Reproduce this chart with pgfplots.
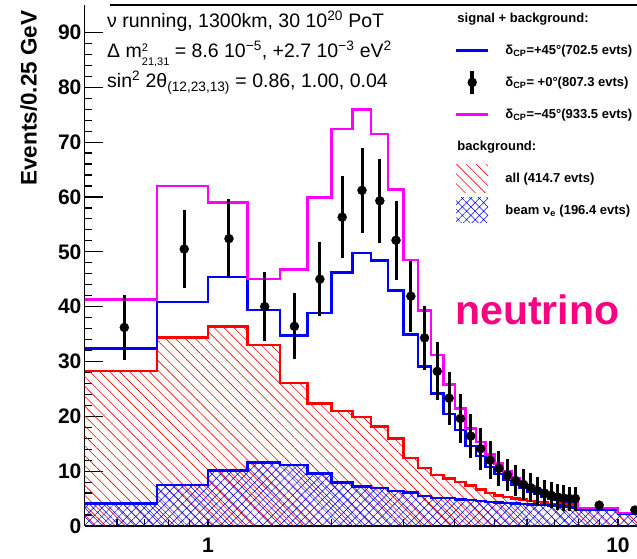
\documentclass[border=0pt]{standalone}
\usepackage{fontspec}
\setmainfont{Liberation Sans}
\usepackage{pgfplots}
\usepackage{pgfplotstable}
\pgfplotsset{compat=1.18}
\usetikzlibrary{patterns.meta}
\definecolor{nupink}{RGB}{250,0,130}
\definecolor{rblue}{RGB}{0,0,255}
\definecolor{rmag}{RGB}{255,0,255}
\definecolor{rred}{RGB}{255,0,0}
\pgfplotstableread{
x     pos   neg   bg    nue
0.5   32.4  41.3  28.3  4.1
0.75  40.8  62.0  34.4  7.5
1.0   45.4  59.0  36.4  10.1
1.25  39.4  45.0  33.0  11.6
1.5   34.7  46.8  26.1  11.1
1.75  38.8  59.9  22.3  9.6
2.0   46.2  72.4  21.0  7.9
2.25  49.8  75.9  19.9  7.2
2.5   48.4  71.5  18.1  6.9
2.75  42.9  61.4  16.0  6.4
3.0   34.9  48.5  12.4  6.1
3.25  29.1  39.3  10.6  5.5
3.5   24.2  31.2  9.3   5.1
3.75  20.4  25.8  8.7   5.1
4.0   17.5  21.4  8.0   4.8
4.25  14.6  17.8  7.4   4.7
4.5   12.8  15.3  6.7   4.6
4.75  10.8  13.0  6.0   4.4
5.0   9.5   11.4  5.6   4.3
5.25  8.5   9.9   5.3   4.2
5.5   7.5   8.7   5.0   4.1
5.75  6.9   7.8   4.8   4.0
6.0   6.3   7.2   4.6   3.9
6.25  5.9   6.6   4.4   3.8
6.5   5.4   6.0   4.3   3.8
6.75  5.0   5.4   4.0   3.7
7.0   4.8   5.1   3.8   3.7
7.25  4.6   5.0   4.1   3.6
7.5   4.5   5.0   4.2   3.5
7.75  4.5   5.0   3.9   3.4
8.0   3.1   3.3   3.1   2.9
10.0  2.3   2.4   2.3   2.3
12.0  2.3   2.4   2.3   2.3
}\hist
\pgfplotstableread{
x      y     e
0.625  36.2  6.0
0.875  50.5  7.1
1.125  52.4  7.2
1.375  40.0  6.3
1.625  36.4  6.0
1.875  45.0  6.7
2.125  56.3  7.5
2.375  61.2  7.8
2.625  59.3  7.7
2.875  52.1  7.2
3.125  41.9  6.5
3.375  34.3  5.9
3.625  28.2  5.3
3.875  23.3  4.8
4.125  19.6  4.4
4.375  16.4  4.0
4.625  14.1  3.8
4.875  12.0  3.5
5.125  10.5  3.2
5.375  9.3   3.0
5.625  8.3   2.9
5.875  7.6   2.8
6.125  7.0   2.6
6.375  6.4   2.5
6.625  6.0   2.4
6.875  5.6   2.4
7.125  5.3   2.3
7.375  5.1   2.3
7.625  5.0   2.2
7.875  5.0   2.2
9.0    3.8   0.7
11.0   2.9   0.6
}\pts
\begin{document}
\begin{tikzpicture}
\useasboundingbox (0,0) rectangle (637pt,559pt);
\begin{axis}[
  at={(84.6pt,33pt)}, anchor=south west,
  scale only axis, width=552.4pt, height=521pt,
  xmode=log, xmin=0.5, xmax=11.13, ymin=0, ymax=95,
  axis x line*=bottom, axis y line*=left,
  axis line style={line width=1.2pt, black},
  tick align=inside,
  tick style={black, line width=1.2pt},
  major tick length=18pt, minor tick length=7pt,
  xtick={1,10}, xticklabels={1,10},
  major x tick style={draw=none},
  minor xtick={0.6,0.7,0.8,0.9,1,2,3,4,5,6,7,8,9,10},
  ytick={0,10,20,30,40,50,60,70,80,90},
  yticklabels={0,10,20,30,40,50,60,70,80,90},
  minor y tick num=4,
  ticklabel style={font=\bfseries\fontsize{21}{21}\selectfont},
  yticklabel style={anchor=east, inner sep=0pt, xshift=-3pt},
  xticklabel style={anchor=north, inner sep=0pt, yshift=-12pt},
  ylabel={Events/0.25 GeV},
  ylabel style={font=\bfseries\fontsize{22.5}{22.5}\selectfont, at={(axis description cs:-0.0867,0.996)}, anchor=base east},
  legend style={at={(axis description cs:0.6705,1.005)}, anchor=north west, draw=none, fill=none, inner sep=0pt, outer sep=0pt, row sep=0pt, column sep=16pt, font=\bfseries\fontsize{13}{13}\selectfont, nodes={inner sep=0pt, draw=none}},
  legend cell align=left,
]
\addplot[draw=none, const plot, pattern={Lines[angle=-45,distance=7pt,line width=0.6pt]}, pattern color=rred, forget plot] table[x=x,y=bg]{\hist} \closedcycle;
\addplot[rred, line width=2.5pt, const plot, forget plot] table[x=x,y=bg]{\hist};
\addplot[draw=none, const plot, pattern={Hatch[angle=45,distance=6pt,line width=0.5pt]}, pattern color=rblue, forget plot] table[x=x,y=nue]{\hist} \closedcycle;
\addplot[rblue, line width=2.5pt, const plot, forget plot] table[x=x,y=nue]{\hist};
\addplot[rblue, line width=2.5pt, const plot, forget plot] table[x=x,y=pos]{\hist};
\addplot[rmag, line width=2.5pt, const plot, forget plot] table[x=x,y=neg]{\hist};
\addplot[black, only marks, mark=*, mark size=4.5pt, mark options={fill=black}, forget plot,
  error bars/.cd, y dir=both, y explicit, error mark=none, error bar style={line width=3pt, black}]
  table[x=x,y=y,y error=e]{\pts};
\addlegendimage{legend image code/.code={\path[draw=none,fill=none] (0pt,-16pt) rectangle (32pt,16pt);}}
\addlegendentry{\hspace*{-48pt}signal + background:}
\addlegendimage{legend image code/.code={\path[draw=none,fill=none] (0pt,-16pt) rectangle (32pt,16pt); \draw[rblue,line width=2.5pt] (0pt,0pt) -- (32pt,0pt);}}
\addlegendentry{δ\textsubscript{CP}=+45°(702.5 evts)}
\addlegendimage{legend image code/.code={\path[draw=none,fill=none] (0pt,-16pt) rectangle (32pt,16pt); \draw[black,line width=3.5pt] (16pt,-11.5pt) -- (16pt,11.5pt); \fill[black] (16pt,0pt) circle (4.5pt);}}
\addlegendentry{δ\textsubscript{CP}= +0°(807.3 evts)}
\addlegendimage{legend image code/.code={\path[draw=none,fill=none] (0pt,-16pt) rectangle (32pt,16pt); \draw[rmag,line width=2.5pt] (0pt,0pt) -- (32pt,0pt);}}
\addlegendentry{δ\textsubscript{CP}=−45°(933.5 evts)}
\addlegendimage{legend image code/.code={\path[draw=none,fill=none] (0pt,-16pt) rectangle (32pt,16pt);}}
\addlegendentry{\hspace*{-48pt}background:}
\addlegendimage{legend image code/.code={\path[draw=none,fill=none] (0pt,-16pt) rectangle (32pt,16pt); \path[draw=none, pattern={Lines[angle=-45,distance=7pt,line width=0.6pt]}, pattern color=rred] (0pt,-14pt) rectangle (32pt,14pt);}}
\addlegendentry{all (414.7 evts)}
\addlegendimage{legend image code/.code={\path[draw=none,fill=none] (0pt,-16pt) rectangle (32pt,16pt); \path[draw=none, pattern={Hatch[angle=45,distance=6pt,line width=0.5pt]}, pattern color=rblue] (0pt,-12.5pt) rectangle (32pt,12.5pt);}}
\addlegendentry{beam ν\textsubscript{e} (196.4 evts)}
\end{axis}
\draw[line width=1.2pt] (110pt,554pt) -- (637pt,554pt);
\node[anchor=base west, inner sep=0pt, font=\fontsize{19.5}{19.5}\selectfont] at (107pt,531pt) {ν running, 1300km, 30 10\textsuperscript{20} PoT};
\node[anchor=base west, inner sep=0pt, font=\fontsize{19.5}{19.5}\selectfont] at (107pt,501pt) {Δ m\rlap{\raisebox{6pt}{\fontsize{11}{11}\selectfont 2}}\raisebox{-8pt}{\fontsize{11}{11}\selectfont 21,31} = 8.6 10\textsuperscript{−5}, +2.7 10\textsuperscript{−3} eV\textsuperscript{2}};
\node[anchor=base west, inner sep=0pt, font=\fontsize{19.5}{19.5}\selectfont] at (107pt,471pt) {sin\textsuperscript{2} 2θ\textsubscript{(12,23,13)} = 0.86, 1.00, 0.04};
\node[anchor=base west, inner sep=0pt, text=nupink, font=\bfseries\fontsize{41}{41}\selectfont] at (455pt,234pt) {neutrino};
\end{tikzpicture}
\end{document}
